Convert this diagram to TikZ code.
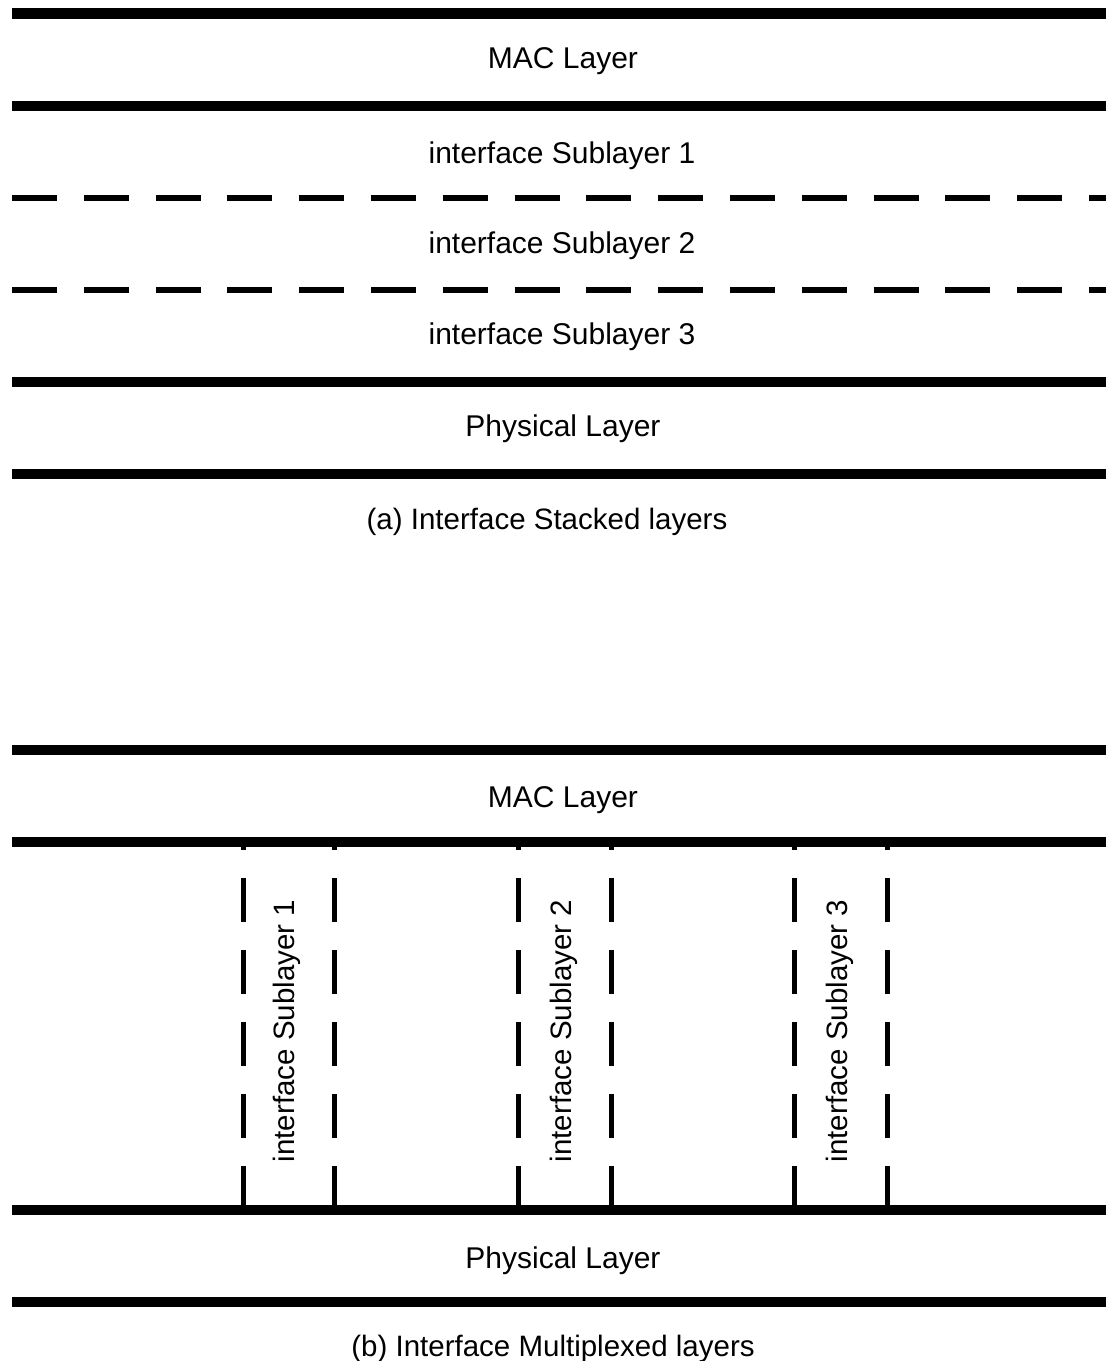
\documentclass[tikz,border=0pt]{standalone}
\usepackage{fontspec}
\setmainfont{Liberation Sans}
\begin{document}
\begin{tikzpicture}[x=1pt,y=-1pt,
  layerline/.style={line width=10.5pt,line cap=butt},
  hsplit/.style={line width=5.5pt,dash pattern=on 45pt off 26.8pt},
  vsplit/.style={line width=5pt,dash pattern=on 44pt off 28pt},
  label/.style={font=\fontsize{30}{36}\selectfont,anchor=base,inner sep=0pt},
  caption/.style={font=\fontsize{29.5}{35}\selectfont,anchor=base,inner sep=0pt},
  vlabel/.style={font=\fontsize{29.5}{35}\selectfont,rotate=90,inner sep=0pt}]
\useasboundingbox[fill=white] (0,0) rectangle (1106,1361);

% (a) stacked sublayers
\draw[layerline] (12,13.5) -- (1106,13.5);
\draw[layerline] (12,106) -- (1106,106);
\draw[hsplit] (12,198) -- (1106,198);
\draw[hsplit] (12,290) -- (1106,290);
\draw[layerline] (12,382) -- (1106,382);
\draw[layerline] (12,474) -- (1106,474);

\node[label] (macA) at (563,68) {MAC Layer};
\node[label] (subA1) at (562,163) {interface Sublayer 1};
\node[label] (subA2) at (562,253) {interface Sublayer 2};
\node[label] (subA3) at (562,344) {interface Sublayer 3};
\node[label] (phyA) at (563,436) {Physical Layer};
\node[caption] (capA) at (547,529) {(a) Interface Stacked layers};

% (b) multiplexed sublayers
\draw[layerline] (12,750) -- (1106,750);
\draw[layerline] (12,842) -- (1106,842);
\draw[layerline] (12,1210) -- (1106,1210);
\draw[layerline] (12,1302) -- (1106,1302);

\foreach \x in {243,334,518,611,794,887}
  \draw[vsplit] (\x,1210) -- (\x,842);

\node[vlabel] (subB1) at (287,1031) {interface Sublayer 1};
\node[vlabel] (subB2) at (564,1031) {interface Sublayer 2};
\node[vlabel] (subB3) at (840,1031) {interface Sublayer 3};

\node[label] (macB) at (563,807) {MAC Layer};
\node[label] (phyB) at (563,1268) {Physical Layer};
\node[caption] (capB) at (553,1356) {(b) Interface Multiplexed layers};
\end{tikzpicture}
\end{document}
